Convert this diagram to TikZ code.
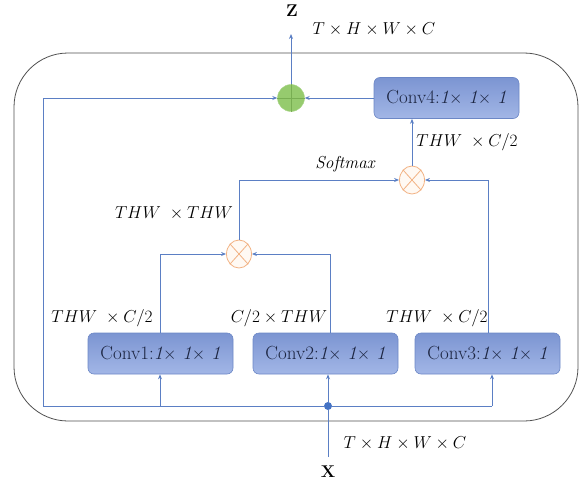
\documentclass[tikz,border=0pt]{standalone}
\usetikzlibrary{arrows.meta,calc,shapes.geometric}
\definecolor{lineblue}{HTML}{5B7FC4}
\definecolor{boxtop}{HTML}{7C95D2}
\definecolor{boxbot}{HTML}{A2B6E6}
\definecolor{boxborder}{HTML}{6C87C6}
\definecolor{boxtext}{HTML}{1C2541}
\definecolor{addfill}{HTML}{96CB6E}
\definecolor{addline}{HTML}{78AE52}
\definecolor{mulline}{HTML}{F2B283}
\definecolor{mulfill}{HTML}{FFF9F3}
\definecolor{dotblue}{HTML}{4472C4}
\definecolor{outerline}{HTML}{505050}
\begin{document}
\begin{tikzpicture}[x=1pt,y=-1pt,
  conn/.style={draw=lineblue, line width=0.8pt},
  arr/.style={conn, -{Stealth[length=5pt,width=4pt]}},
  convbox/.style={rectangle, rounded corners=6pt, draw=boxborder, line width=0.6pt,
    top color=boxtop, bottom color=boxbot, minimum width=145pt, minimum height=41pt,
    inner sep=0pt, text=boxtext, font=\fontsize{19}{22}\selectfont},
  addnode/.style={circle, fill=addfill, draw=addfill!80!white, minimum size=27pt, inner sep=0pt},
  mulnode/.style={ellipse, fill=mulfill, draw=mulline, line width=0.8pt, minimum width=25pt, minimum height=28pt, inner sep=0pt},
  dimlabel/.style={font=\fontsize{16.5}{18}\selectfont, text=black, inner sep=0pt},
  iolabel/.style={font=\bfseries\fontsize{17}{19}\selectfont, inner sep=0pt}
]
\useasboundingbox (0,0) rectangle (585,484);
% outer frame
\draw[outerline, line width=0.8pt, rounded corners=54pt] (14,53) rectangle (578,421);

% nodes
\node[convbox] (conv1) at (160.5,353.5) {Conv1:\textit{1}$\times$ \textit{1}$\times$ \textit{1}};
\node[convbox] (conv2) at (325.5,353.5) {Conv2:\textit{1}$\times$ \textit{1}$\times$ \textit{1}};
\node[convbox] (conv3) at (487.5,353.5) {Conv3:\textit{1}$\times$ \textit{1}$\times$ \textit{1}};
\node[convbox] (conv4) at (446.5,98) {Conv4:\textit{1}$\times$ \textit{1}$\times$ \textit{1}};

\node[addnode] (add) at (291,98) {};
\draw[addline, line width=0.6pt] (add.north) -- (add.south) (add.west) -- (add.east);

\node[mulnode] (mul2) at (412,180) {};
\draw[mulline, line width=0.8pt] (mul2.north west) -- (mul2.south east) (mul2.north east) -- (mul2.south west);
\node[mulnode] (mul1) at (239,254) {};
\draw[mulline, line width=0.8pt] (mul1.north west) -- (mul1.south east) (mul1.north east) -- (mul1.south west);

\node[circle, fill=dotblue, minimum size=8pt, inner sep=0pt] (dot) at (328,406) {};

% coordinates
\coordinate (xs) at (328,457);
\coordinate (zt) at (291,34);
\coordinate (bl) at (43,406);
\coordinate (tl) at (43,98);
\coordinate (j1) at (160,406);
\coordinate (j3) at (492,406);
\coordinate (c1t) at (160,333);
\coordinate (c2t) at (330,333);
\coordinate (c3t) at (488,333);

% connectors
\draw[conn] (xs) -- (dot);
\draw[arr] (dot) -- (conv2.south -| dot);
\draw[conn] (dot) -- (j1);
\draw[arr] (j1) -- (conv1.south -| j1);
\draw[conn] (j1) -- (bl) -- (tl);
\draw[arr] (tl) -- (add.west);
\draw[conn] (dot) -- (j3);
\draw[arr] (j3) -- (conv3.south -| j3);

\draw[arr] (c1t) |- (mul1.west);
\draw[arr] (c2t) |- (mul1.east);
\draw[arr] (mul1.north) |- (mul2.west);
\draw[arr] (c3t) |- (mul2.east);
\draw[arr] (mul2.north) -- (conv4.south -| mul2);
\draw[arr] (conv4.west) -- (add.east);
\draw[arr] (add.north) -- (zt);

% labels
\node[iolabel] (zlab) at (292,11) {Z};
\node[iolabel] (xlab) at (328,472) {X};
\node[dimlabel] (lz) at (374,29) {$T\times H\times W\times C$};
\node[dimlabel] (lx) at (405,443) {$T\times H\times W\times C$};
\node[dimlabel] (l1) at (102,318) {$THW\ \times C/2$};
\node[dimlabel] (l2) at (279,318) {$C/2\times THW$};
\node[dimlabel] (l3) at (437,318) {$THW\ \times C/2$};
\node[dimlabel] (l4) at (174,213) {$THW\ \times THW$};
\node[dimlabel] (l5) at (346,164) {$\mathit{Softmax}$};
\node[dimlabel] (l6) at (467,142) {$THW\ \times C/2$};
\end{tikzpicture}
\end{document}
